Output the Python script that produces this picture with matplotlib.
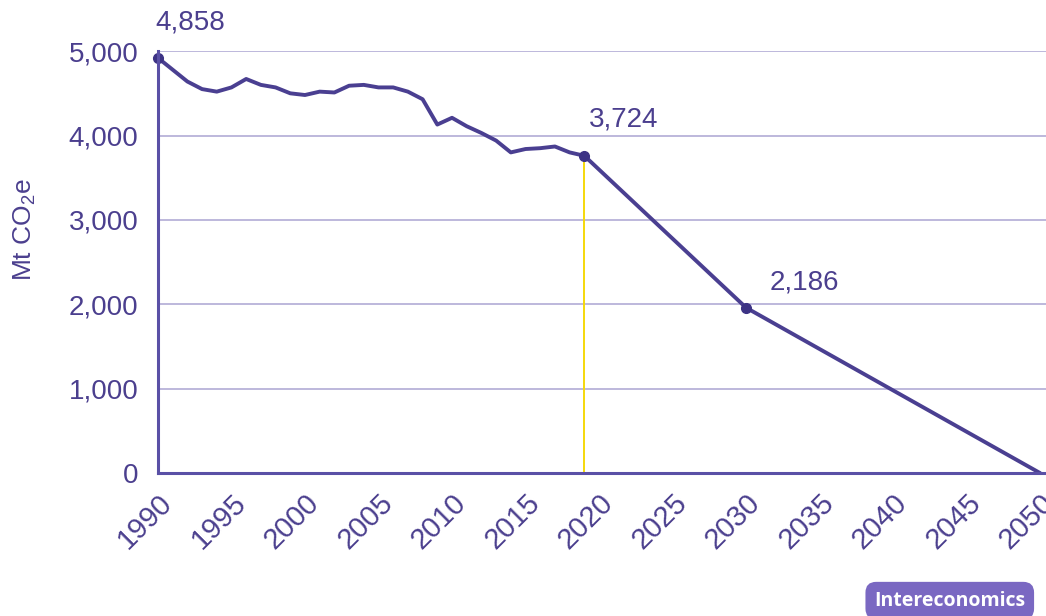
import os

os.environ.setdefault("MPLBACKEND", "Agg")

import matplotlib.pyplot as plt
from matplotlib.ticker import FuncFormatter

# Emissions path as drawn (Mt CO2e, thousands), history then target path
years = [1990, 1991, 1992, 1993, 1994, 1995, 1996, 1997, 1998, 1999,
         2000, 2001, 2002, 2003, 2004, 2005, 2006, 2007, 2008, 2009,
         2010, 2011, 2012, 2013, 2014, 2015, 2016, 2017, 2018, 2019,
         2030, 2050]
values = [4920, 4780, 4640, 4550, 4520, 4570, 4670, 4600, 4570, 4500,
          4480, 4520, 4510, 4590, 4600, 4570, 4570, 4520, 4430, 4130,
          4210, 4110, 4030, 3940, 3800, 3840, 3850, 3870, 3800, 3760,
          1960, 0]

marked_years = [1990, 2019, 2030]
marked_labels = ["4,858", "3,724", "2,186"]
label_offsets = [(-0.2, 260), (0.3, 270), (1.6, 150)]

x_ticks = list(range(1990, 2051, 5))
y_ticks = [0, 1000, 2000, 3000, 4000, 5000]

PURPLE = "#4a3f91"
TEXT = "#4b3f8e"
GRID = "#bdb8dc"


def main():
    plt.rcParams["font.family"] = ["Liberation Sans", "DejaVu Sans"]
    plt.rcParams["mathtext.fontset"] = "custom"
    plt.rcParams["mathtext.rm"] = "Liberation Sans"
    plt.rcParams["mathtext.it"] = "Liberation Sans:italic"

    fig = plt.figure(figsize=(10.46, 6.16), dpi=100)
    ax = fig.add_axes([0.151, 0.232, 0.849, 0.685])

    ax.set_xlim(1990, 2050.4)
    ax.set_ylim(0, 5000)

    for yv in y_ticks[1:]:
        ax.axhline(yv, color=GRID, lw=1.4, zorder=1)

    # yellow marker for the last historical year
    i19 = years.index(2019)
    ax.plot([2019, 2019], [0, values[i19]], color="#f5d80a", lw=1.4, zorder=2)

    ax.plot(years, values, color=PURPLE, lw=2.8, solid_joinstyle="round",
            solid_capstyle="round", zorder=3, clip_on=False)

    mx = marked_years
    my = [values[years.index(y)] for y in mx]
    ax.plot(mx, my, "o", color="#3d3385", ms=7, zorder=4, clip_on=False)

    for x, y, lab, (dx, dy) in zip(mx, my, marked_labels, label_offsets):
        ax.text(x + dx, y + dy, lab, fontsize=20, color=TEXT,
                ha="left", va="bottom", clip_on=False)

    for side in ["top", "right"]:
        ax.spines[side].set_visible(False)
    for side in ["left", "bottom"]:
        ax.spines[side].set_color("#5a50a6")
        ax.spines[side].set_linewidth(2.2)
        ax.spines[side].set_zorder(5)

    ax.set_xticks(x_ticks)
    ax.set_yticks(y_ticks)
    ax.yaxis.set_major_formatter(FuncFormatter(lambda v, p: f"{int(v):,}"))
    ax.tick_params(axis="both", length=0, colors=TEXT)
    ax.tick_params(axis="y", labelsize=20, pad=14)
    ax.tick_params(axis="x", labelsize=21, pad=11)
    for lab in ax.get_xticklabels():
        lab.set_rotation(45)
        lab.set_ha("right")
        lab.set_va("top")
        lab.set_rotation_mode("anchor")

    fig.text(0.024, 0.627, r"Mt CO$_2$e", rotation=90, fontsize=19,
             color=TEXT, ha="center", va="center")

    fig.text(0.908, 0.025, "Intereconomics", fontsize=14, fontweight="bold",
             family=["Open Sans", "DejaVu Sans"],
             color="white", ha="center", va="center",
             bbox=dict(boxstyle="round,pad=0.45,rounding_size=0.55",
                       fc="#7a68c2", ec="none"))

    fig.savefig("out.png", dpi=100, facecolor="white")
    plt.close(fig)


if __name__ == "__main__":
    main()
